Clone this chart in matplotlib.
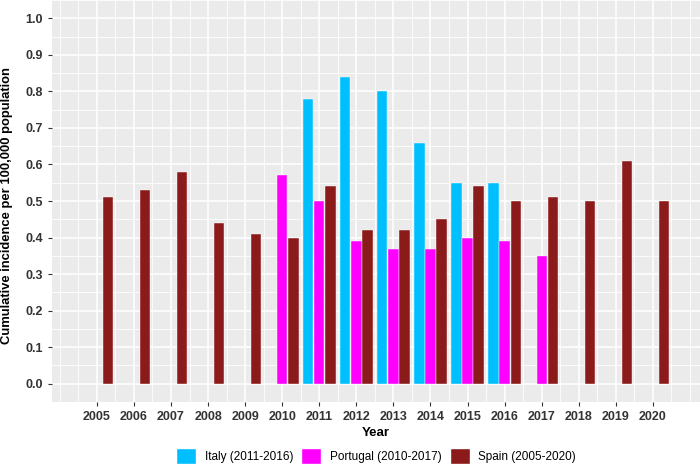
import numpy as np
import matplotlib.pyplot as plt
from matplotlib.ticker import MultipleLocator
from matplotlib.patches import Patch

plt.rcParams['font.family'] = ['Liberation Sans', 'DejaVu Sans']

# --- DATA ---
italy_years = [2011, 2012, 2013, 2014, 2015, 2016]
italy_vals = [0.78, 0.84, 0.80, 0.66, 0.55, 0.55]

portugal_years = [2010, 2011, 2012, 2013, 2014, 2015, 2016, 2017]
portugal_vals = [0.57, 0.50, 0.39, 0.37, 0.37, 0.40, 0.39, 0.35]

spain_years = list(range(2005, 2021))
spain_vals = [0.51, 0.53, 0.58, 0.44, 0.41, 0.40, 0.54, 0.42,
              0.42, 0.45, 0.54, 0.50, 0.51, 0.50, 0.61, 0.50]

labels = ["Italy (2011-2016)", "Portugal (2010-2017)", "Spain (2005-2020)"]
colors = ["#00BFFF", "#FF00FF", "#8B1A1A"]

# --- PLOT ---
fig = plt.figure(figsize=(7, 4.68), dpi=100)
ax = fig.add_axes([52 / 700, 66 / 468, 648 / 700, 402 / 468])
ax.set_facecolor("#EBEBEB")

w = 0.28
off = 0.3
series = [(italy_years, italy_vals, -off), (portugal_years, portugal_vals, 0.0),
          (spain_years, spain_vals, off)]
for (yrs, vals, dx), col in zip(series, colors):
    ax.bar(np.array(yrs) + dx, vals, width=w, color=col,
           edgecolor="white", linewidth=0.3, zorder=3)

ax.set_xlim(2003.79, 2021.27)
ax.set_ylim(-0.05, 1.05)
ax.set_xticks(spain_years)
ax.set_xticklabels([str(y) for y in spain_years])
ax.yaxis.set_major_locator(MultipleLocator(0.1))
ax.yaxis.set_minor_locator(MultipleLocator(0.05))
ax.xaxis.set_minor_locator(MultipleLocator(0.5))
ax.yaxis.set_major_formatter(plt.FuncFormatter(lambda v, p: f"{v:.1f}"))

ax.grid(which="major", color="white", linewidth=1.1, zorder=0)
ax.grid(which="minor", color="white", linewidth=0.6, zorder=0)
ax.set_axisbelow(True)
for s in ax.spines.values():
    s.set_visible(False)

ax.tick_params(axis="both", which="major", length=3, color="#333333",
               labelsize=9, labelcolor="#333333")
ax.tick_params(axis="both", which="minor", length=0)
for t in ax.get_xticklabels() + ax.get_yticklabels():
    t.set_fontweight("bold")

ax.set_xlabel("Year", fontsize=9.5, fontweight="bold", labelpad=3)
fig.text(7 / 700, 1 - 206 / 468, "Cumulative incidence per 100,000 population",
         rotation=90, ha="center", va="center", fontsize=9.4, fontweight="bold")

handles = [Patch(facecolor=c, edgecolor="white") for c in colors]
fig.legend(handles, labels, loc="center", bbox_to_anchor=(376 / 700, 12 / 468),
           ncol=3, frameon=False, fontsize=8.5, handlelength=1.7, handleheight=1.7,
           columnspacing=0.7, handletextpad=0.7, borderpad=0)

fig.savefig("out.png", dpi=100)
